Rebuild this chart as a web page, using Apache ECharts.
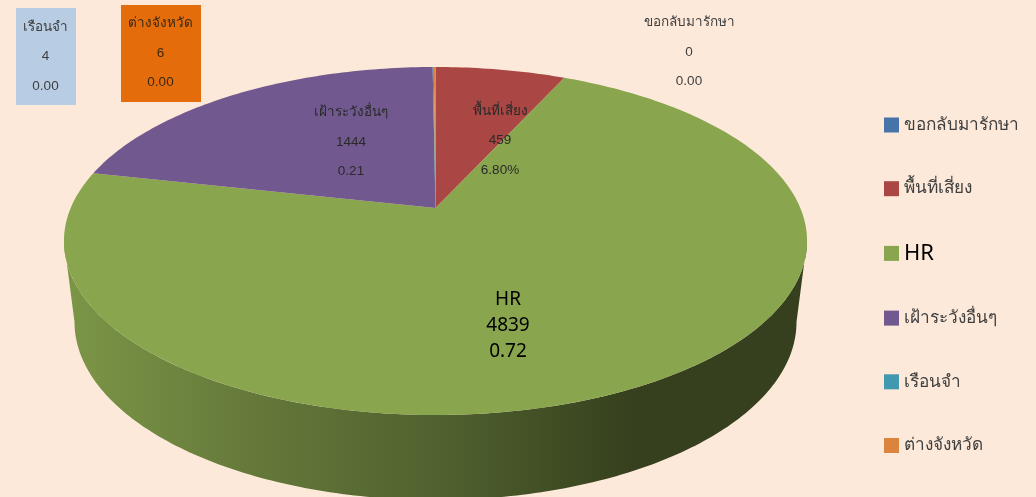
<!DOCTYPE html>
<html><head><meta charset="utf-8">
<style>html,body{margin:0;padding:0;background:#FDE9D9}#c{width:1036px;height:497px}</style>
<script src="https://cdn.jsdelivr.net/npm/echarts@6/dist/echarts.min.js"></script>
</head><body><div id="c"></div>
<script>
// ---- data ----
const categories = ['ขอกลับมารักษา','พื้นที่เสี่ยง','HR','เฝ้าระวังอื่นๆ','เรือนจำ','ต่างจังหวัด'];
const values = [0,459,4839,1444,4,6];
const shareLabels = ['0.00','6.80%','0.72','0.21','0.00','0.00'];
const colors = ['#4674A8','#AA4643','#89A54E','#71588F','#4198AF','#DB843D'];

// ---- layout (projection of the pie disc, and where labels sit) ----
const top3d = {cx:435.5, apexY:208, R:364.8, a:128.3, c:-0.1897};
const bottom3d = {cx:435.5, cy:322, rx:361, ry:178};
const labelLayout = [
  {x:689,y:52,color:'#404040',size:13.5,gap:29.5},
  {x:500,y:140.5,color:'#2a2a2a',size:13.5,gap:29.5},
  {x:508,y:326,color:'#000000',size:19,gap:26,latin:'"Noto Sans"'},
  {x:351,y:142,color:'#2a2a2a',size:13.5,gap:29.5},
  {x:45.5,y:56.5,color:'#404040',size:13.5,gap:29.5,box:[16,8,60,97,'#B8CCE4']},
  {x:160.5,y:53,color:'#3a2a14',size:13.5,gap:29.5,box:[121,5,80,97,'#E46C0A']}
];
const FONT = '"Liberation Sans","Noto Sans","DejaVu Sans",sans-serif';

const total = values.reduce((s,v)=>s+v,0);
const starts = []; values.reduce((s,v,i)=>{starts[i]=s; return s+v;},0);
const ang = v => v/total*2*Math.PI;
function topPt(t){
  const u=Math.sin(t), v=-Math.cos(t), d=1+top3d.c*v;
  return [top3d.cx+top3d.R*u/d, (top3d.a*v+top3d.apexY)/d];
}
function botPt(t){
  return [bottom3d.cx+bottom3d.rx*Math.sin(t), bottom3d.cy-bottom3d.ry*Math.cos(t)];
}
function arc(fn,t0,t1){
  const n=Math.max(2,Math.ceil((t1-t0)/(Math.PI/180))), p=[];
  for(let i=0;i<=n;i++) p.push(fn(t0+(t1-t0)*i/n));
  return p;
}
// the widest points of each rim: the wall silhouette runs between them
const topSideT = Math.acos(top3d.c);
const wallFill = {type:'linear',global:true,x:64,y:0,x2:807,y2:0,colorStops:[
  {offset:0,color:'#7C9647'},{offset:0.25,color:'#65793A'},{offset:0.5,color:'#51622F'},
  {offset:0.72,color:'#3A4620'},{offset:0.77,color:'#363F1E'},{offset:1,color:'#363F1E'}]};

const series = [];
// side wall of the disc
series.push({name:'wall',type:'custom',coordinateSystem:'none',silent:true,z:1,animation:false,
  data:values.map((v,i)=>({value:[v],name:categories[i]})),
  renderItem(p,api){
    const i=p.dataIndex,v=api.value(0);
    const empty={type:'group',children:[]};
    if(!v) return empty;
    const t0=ang(starts[i]),t1=ang(starts[i]+v);
    const a0=Math.max(t0,topSideT),a1=Math.min(t1,2*Math.PI-topSideT);
    const b0=Math.max(t0,Math.PI/2),b1=Math.min(t1,1.5*Math.PI);
    if(a1<=a0||b1<=b0) return empty;
    const pts=arc(topPt,a0,a1).concat(arc(botPt,b0,b1).reverse());
    return {type:'polygon',shape:{points:pts},style:{fill:wallFill}};
  }});
// top face, one series per category (drives the legend)
categories.forEach((name,i)=>{
  series.push({name,type:'custom',coordinateSystem:'none',silent:true,z:2,animation:false,
    itemStyle:{color:colors[i]},
    data:[{value:[values[i]],name}],
    renderItem(p,api){
      const v=api.value(0);
      if(!v) return {type:'group',children:[]};
      const t0=ang(starts[i]),t1=ang(starts[i]+v);
      const pts=[[top3d.cx,top3d.apexY]].concat(arc(topPt,t0,t1));
      return {type:'polygon',shape:{points:pts},style:{fill:colors[i]}};
    }});
});
// data labels
series.push({name:'labels',type:'custom',coordinateSystem:'none',silent:true,z:3,animation:false,
  data:values.map((v,i)=>({value:[v],name:categories[i]})),
  renderItem(p,api){
    const i=p.dataIndex,L=labelLayout[i],ch=[];
    if(L.box) ch.push({type:'rect',shape:{x:L.box[0],y:L.box[1],width:L.box[2],height:L.box[3]},style:{fill:L.box[4]}});
    const fam=L.latin?L.latin+',sans-serif':FONT;
    [categories[i],String(api.value(0)),shareLabels[i]].forEach((s,k)=>{
      ch.push({type:'text',style:{text:s,x:L.x,y:L.y+(k-1)*L.gap,align:'center',verticalAlign:'middle',
        fill:L.color,font:L.size+'px '+fam}});
    });
    return {type:'group',children:ch};
  }});

const chart = echarts.init(document.getElementById('c'),null,{renderer:'canvas'});
chart.setOption({
  backgroundColor:'#FDE9D9',
  animation:false,
  legend:{
    orient:'vertical',left:879,top:110,itemWidth:15,itemHeight:15,itemGap:43.7,icon:'rect',
    selectedMode:false,
    textStyle:{fontFamily:FONT,fontSize:17.2,color:'#404040',lineHeight:20},
    data:categories.map((name,i)=>name==='HR'
      ?{name,itemStyle:{color:colors[i]},textStyle:{fontFamily:'"Noto Sans",sans-serif',fontSize:22,color:'#000',lineHeight:20}}
      :{name,itemStyle:{color:colors[i]}})
  },
  series
});
</script></body></html>
